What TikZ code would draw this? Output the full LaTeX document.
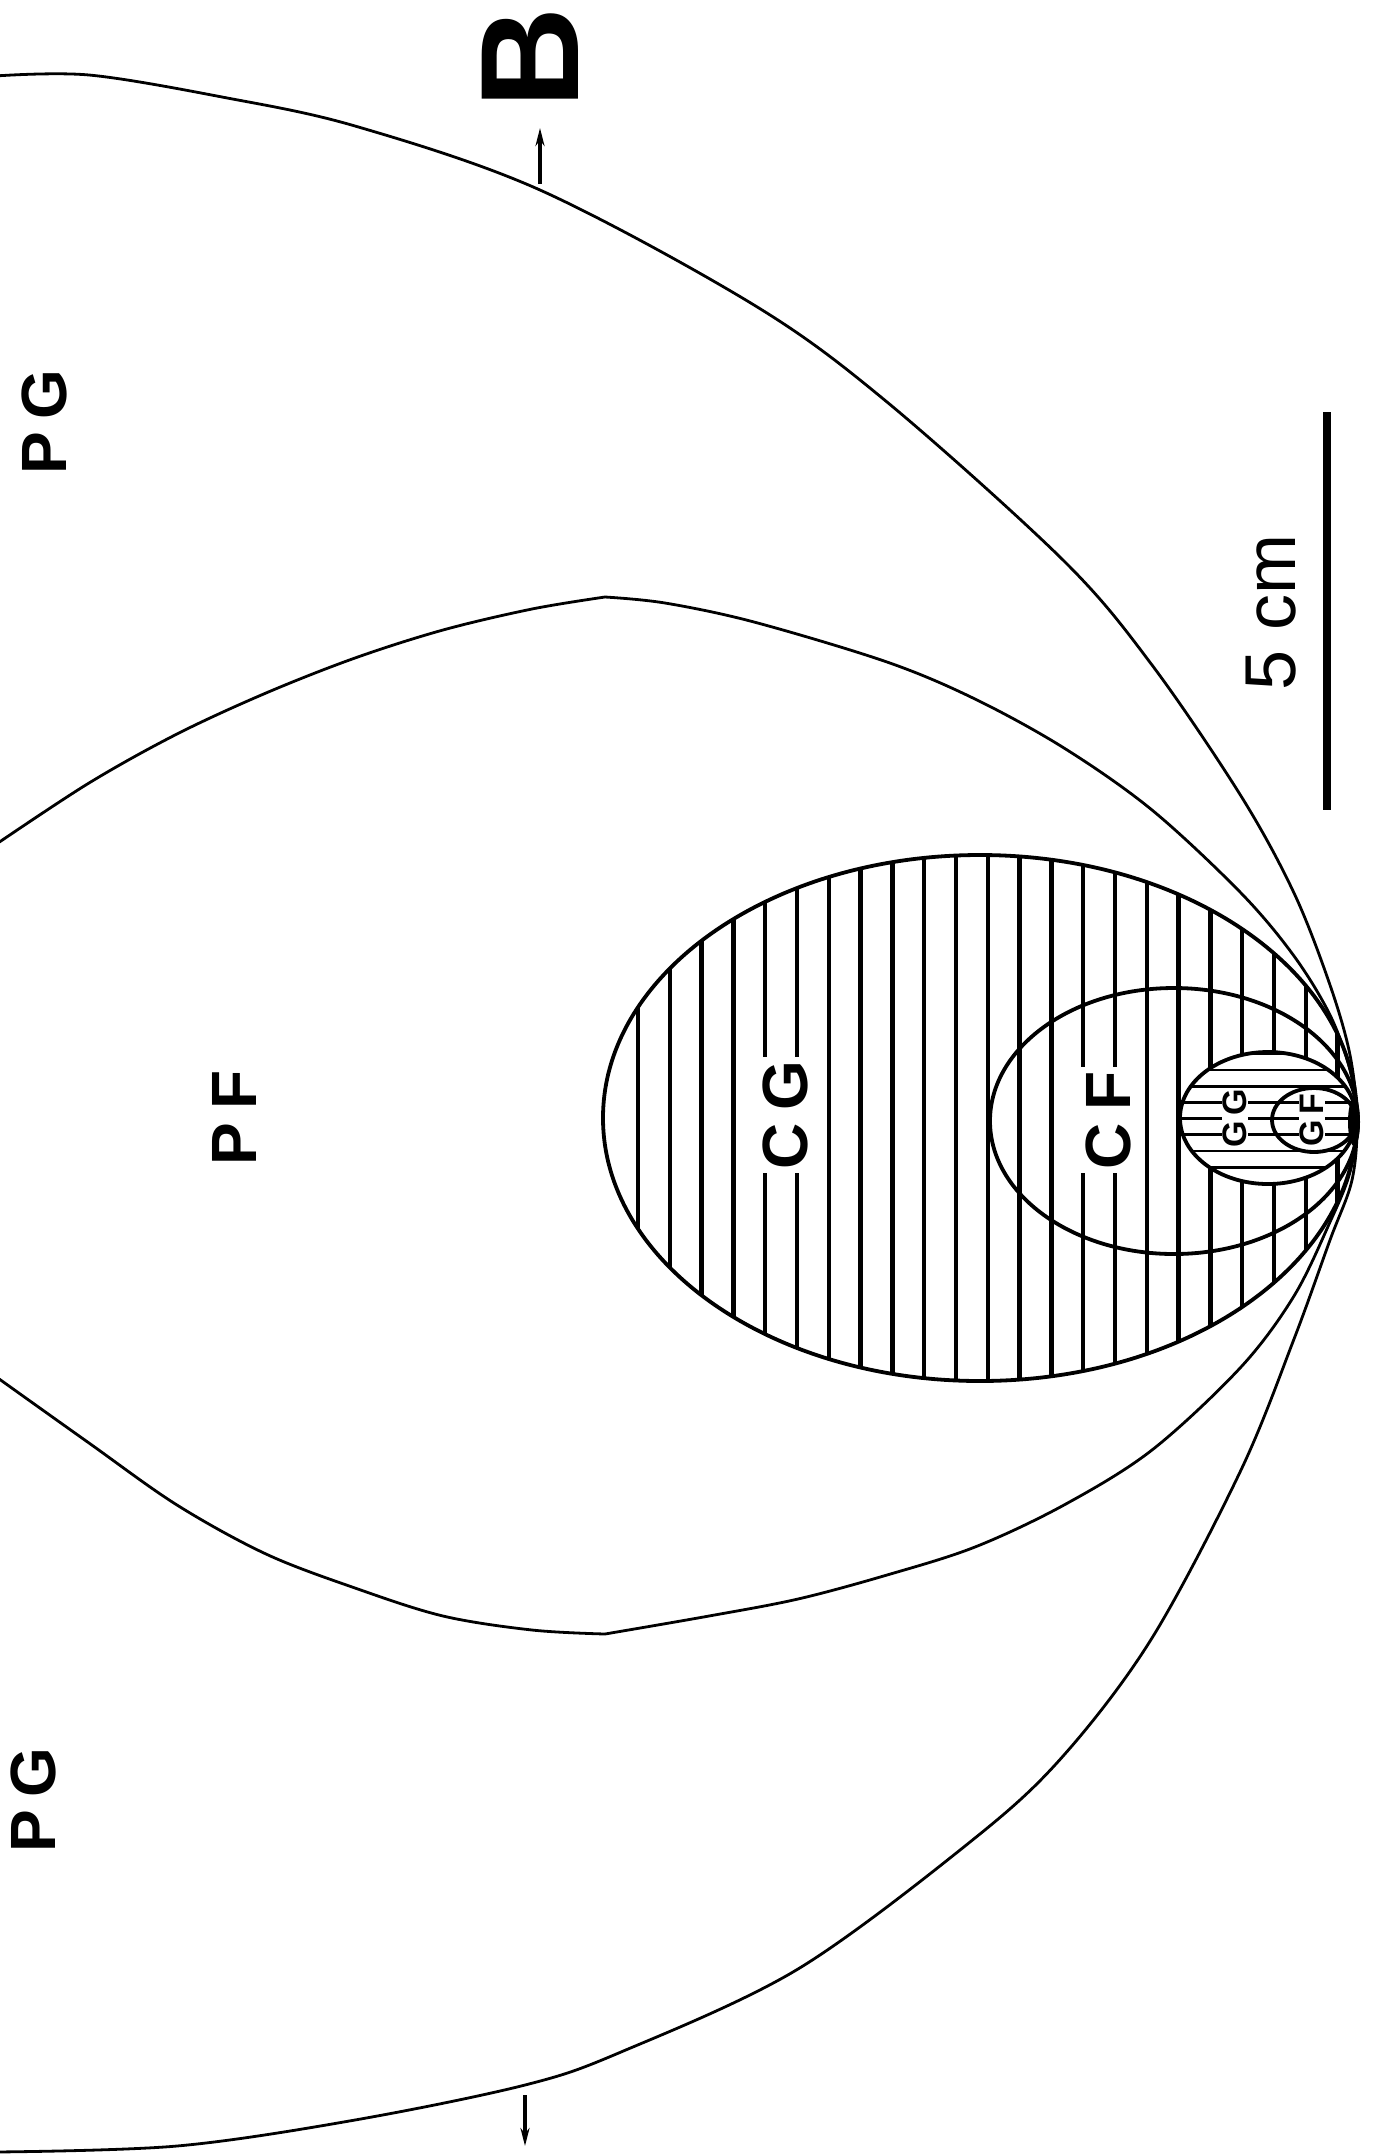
\documentclass[tikz,border=0pt]{standalone}
\usepackage{fontspec}
\setmainfont{Liberation Sans}
\usetikzlibrary{arrows.meta}
\begin{document}
\begin{tikzpicture}[x=1pt,y=-1pt,
  curve/.style={line width=2.8pt, line join=round},
  ell/.style={line width=3.8pt},
  hatch/.style={line width=4.4pt},
  ghatch/.style={line width=2.8pt},
  lab/.style={rotate=90, font=\bfseries\fontsize{64}{64}\selectfont, inner sep=0pt},
  wlab/.style={lab, fill=white, inner sep=4pt},
  slab/.style={rotate=90, font=\bfseries\fontsize{34}{34}\selectfont, fill=white, inner sep=1pt},
  marker/.style={line width=3.4pt, -{Stealth[length=18pt,width=9pt]}}]
\useasboundingbox (0,0) rectangle (1383,2156);
% outer boundary
\draw[curve] plot[smooth, tension=0.55] coordinates {(-5,76) (89,75) (222,97) (355,126) (540,190) (754,305) (887,402) (1064,561) (1152,665) (1241,796) (1294,893) (1330,985) (1350,1055) (1357,1120) (1352,1180) (1330,1240) (1294,1339) (1241,1470) (1152,1638) (1064,1755) (975,1838) (798,1969) (621,2052) (525,2085) (355,2120) (177,2146) (-5,2152)};
% PF boundary
\draw[curve] plot[smooth, tension=0.55] coordinates {(-5,845) (89,783) (177,734) (266,693) (355,658) (443,630) (532,609) (605,597)};
\draw[curve] plot[smooth, tension=0.55] coordinates {(605,597) (665,603) (754,622) (887,662) (975,699) (1064,748) (1152,810) (1241,893) (1294,956) (1330,1015) (1350,1070) (1357,1120) (1350,1172) (1330,1222) (1294,1296) (1241,1367) (1152,1450) (1064,1505) (975,1547) (887,1575) (798,1599) (709,1616) (605,1634)};
\draw[curve] plot[smooth, tension=0.55] coordinates {(605,1634) (532,1630) (443,1616) (355,1588) (266,1554) (177,1505) (89,1443) (-5,1376)};
% CG hatching
\begin{scope}
\clip (980,1118) ellipse [x radius=377pt, y radius=263pt];
\foreach \k in {0,...,22} \draw[hatch] ({638+31.8*\k},840) -- ({638+31.8*\k},1400);
\end{scope}
% GG hatching
\fill[white] (1268,1118) ellipse [x radius=88pt, y radius=66pt];
\begin{scope}
\clip (1268,1118) ellipse [x radius=88pt, y radius=66pt];
\foreach \k in {-1,...,7} \draw[ghatch] (1170,{1070+16.2*\k}) -- (1370,{1070+16.2*\k});
\end{scope}
% outlines
\draw[ell] (980,1118) ellipse [x radius=377pt, y radius=263pt];
\draw[ell] (1174,1121) ellipse [x radius=184pt, y radius=133pt];
\draw[ell] (1268,1118) ellipse [x radius=88pt, y radius=66pt];
\draw[ell] (1314,1120) ellipse [x radius=42pt, y radius=32pt];
\fill (1354,1122) ellipse [x radius=6pt, y radius=24pt];
% scale bar
\coordinate (sbA) at (1327,412);
\coordinate (sbB) at (1327,810);
\draw[line width=8pt] (sbA) -- (sbB);
\node[rotate=90, font=\fontsize{72}{72}\selectfont, inner sep=0pt] (scale) at (1271,612) {5 cm};
% section markers
\coordinate (mBs) at (540,184);
\coordinate (mBe) at (540,128);
\draw[marker] (mBs) -- (mBe);
\coordinate (mAs) at (525,2095);
\coordinate (mAe) at (525,2146);
\draw[marker] (mAs) -- (mAe);
\node[rotate=90, font=\bfseries\fontsize{140}{140}\selectfont, inner sep=0pt] (B) at (530,58) {B};
% labels
\node[lab] (PGtop) at (44,422) {P\kern.2em G};
\node[lab] (PGbot) at (33,1800) {P\kern.2em G};
\node[lab] (PF) at (234,1118) {P\kern.2em F};
\node[wlab] (CG) at (785,1115) {C\kern.2em G};
\node[wlab] (CF) at (1108,1120) {C\kern.2em F};
\node[slab] (GG) at (1235,1118) {G\kern.15em G};
\node[slab] (GF) at (1312,1120) {G\kern.15em F};
\end{tikzpicture}
\end{document}
